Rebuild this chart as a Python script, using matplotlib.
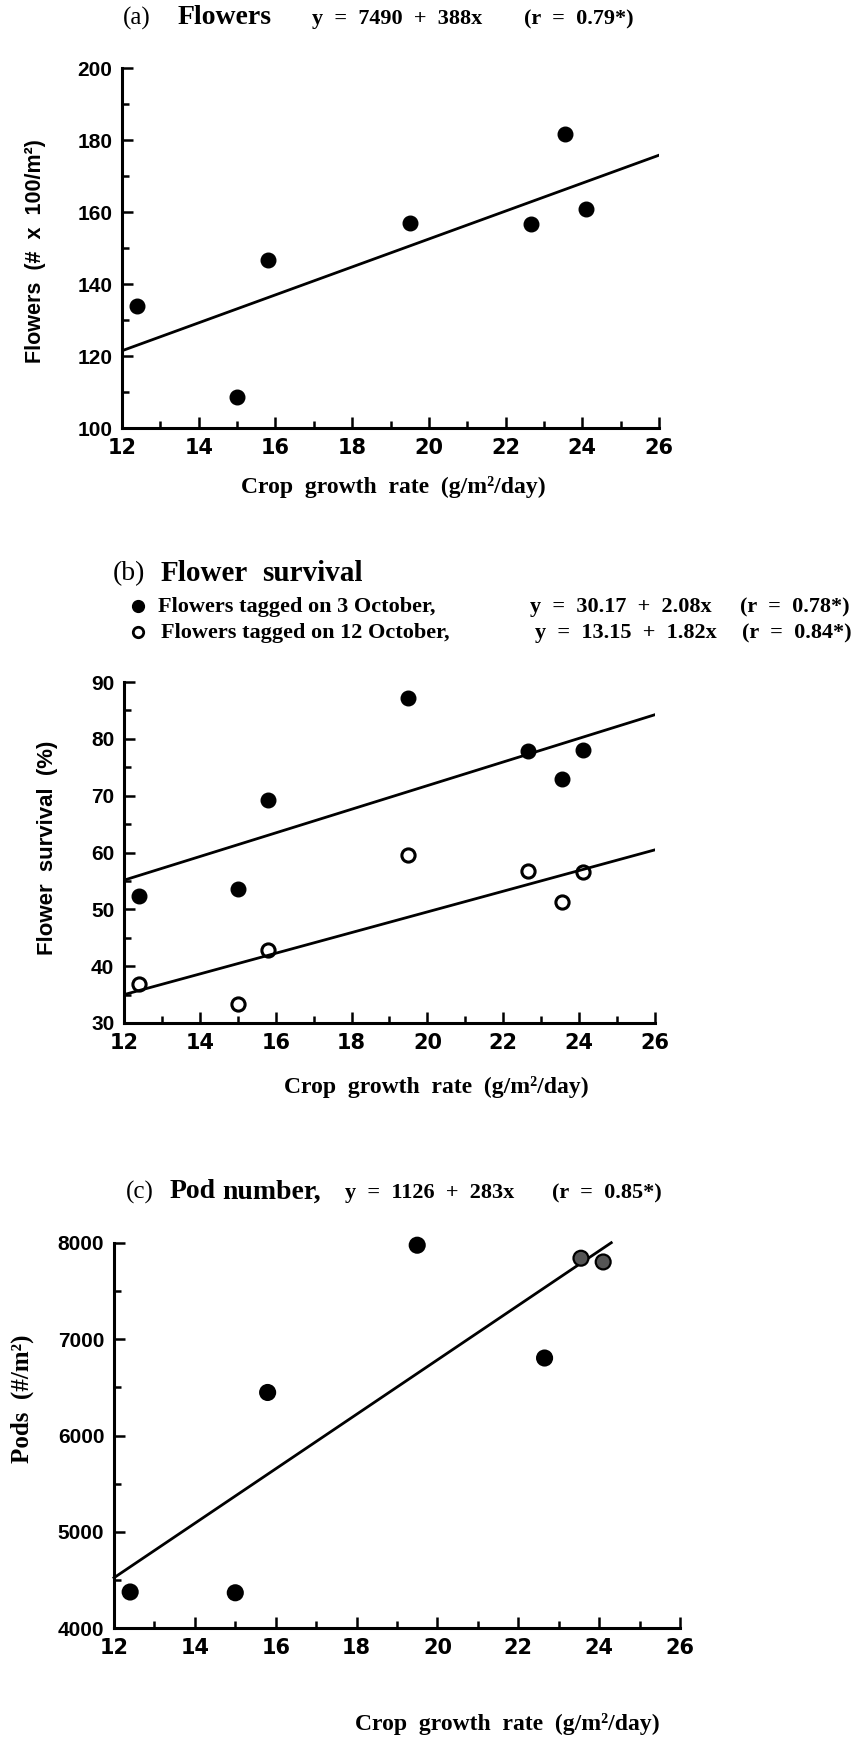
import numpy as np
import matplotlib
matplotlib.use("Agg")
import matplotlib.pyplot as plt
from matplotlib.lines import Line2D
from matplotlib.ticker import MultipleLocator

# crop growth rate of the seven treatments (g/m2/day)
cgr = [12.4, 15.0, 15.8, 19.5, 22.65, 23.55, 24.1]

# (a) flowers, # x 100/m2
flowers = [133.9, 108.7, 146.7, 157.0, 156.7, 181.6, 160.8]
flowers_fit = (7490, 388)          # per m2, plotted /100

# (b) flower survival, %
surv_oct3 = [52.3, 53.5, 69.2, 87.2, 77.8, 72.9, 78.1]
surv_oct12 = [36.9, 33.4, 42.9, 59.5, 56.7, 51.3, 56.5]
surv_fit3 = (30.17, 2.08)
surv_fit12 = (13.15, 1.82)

# (c) pods per m2
pods = [4374, 4366, 6447, 7977, 6805, 7842, 7803]
pods_fit = (1126, 283)
pods_fit_end = 24.3

W, H = 852, 1738
SERIF = ["Liberation Serif", "DejaVu Serif"]
SANS = ["Liberation Sans", "DejaVu Sans"]

fig = plt.figure(figsize=(W / 100, H / 100), dpi=100)


def box(x0, x1, y0, y1):
    # pixel box (from top-left) -> figure fraction rect
    return [x0 / W, 1 - y1 / H, (x1 - x0) / W, (y1 - y0) / H]


def ftext(x, y, s, **kw):
    kw.setdefault("va", "center")
    kw.setdefault("ha", "left")
    kw.setdefault("family", SERIF)
    kw.setdefault("fontweight", "bold")
    fig.text(x / W, 1 - y / H, s, **kw)


def style(ax, ymin, ymax, ymaj, ymin_step):
    ax.set_xlim(12, 26)
    ax.set_ylim(ymin, ymax)
    ax.spines[["top", "right"]].set_visible(False)
    ax.spines[["left", "bottom"]].set_linewidth(2.2)
    ax.xaxis.set_major_locator(MultipleLocator(2))
    ax.xaxis.set_minor_locator(MultipleLocator(1))
    ax.yaxis.set_major_locator(MultipleLocator(ymaj))
    ax.yaxis.set_minor_locator(MultipleLocator(ymin_step))
    ax.tick_params(which="both", direction="in", width=1.8)
    ax.tick_params(which="major", length=8)
    ax.tick_params(which="minor", length=5)
    ax.tick_params(axis="y", pad=7)
    ax.tick_params(axis="x", pad=7)
    for lab in ax.get_yticklabels():
        lab.set_fontfamily(SANS)
        lab.set_fontweight("bold")
        lab.set_fontsize(15)
    for lab in ax.get_xticklabels():
        lab.set_fontfamily(["DejaVu Sans"])
        lab.set_fontweight("bold")
        lab.set_fontsize(15)


xs = np.array([12, 26])
XLAB = "Crop  growth  rate  (g/m²/day)"

# ---- (a) flowers
ax_a = fig.add_axes(box(122, 659, 68, 428))
ax_a.plot(cgr, flowers, "o", color="black", ms=10.5, clip_on=False)
ax_a.plot(xs, (flowers_fit[0] + flowers_fit[1] * xs) / 100, color="black", lw=2)
style(ax_a, 100, 200, 20, 10)

ftext(123, 18, "(a)", fontsize=18, fontweight="normal")
ftext(178, 18, "Flowers", fontsize=20)
ftext(312, 19, "y  =  7490  +  388x", fontsize=16)
ftext(524, 19, "(r  =  0.79*)", fontsize=16)
ftext(36, 251, "Flowers  (#  x  100/m²)", rotation=90, ha="center",
      family=SANS, fontsize=15.5)
ftext(393, 487, XLAB, ha="center", fontsize=17)

# ---- (b) flower survival
ax_b = fig.add_axes(box(124, 655, 682, 1023))
ax_b.plot(cgr, surv_oct3, "o", color="black", ms=10.5, clip_on=False)
ax_b.plot(cgr, surv_oct12, "o", mfc="white", mec="black", mew=2.2, ms=9.5,
          clip_on=False)
ax_b.plot(xs, surv_fit3[0] + surv_fit3[1] * xs, color="black", lw=2)
ax_b.plot(xs, surv_fit12[0] + surv_fit12[1] * xs, color="black", lw=2)
style(ax_b, 30, 90, 10, 5)

ftext(113, 574, "(b)", fontsize=20, fontweight="normal")
ftext(161, 574, "Flower", fontsize=21)
ftext(262, 574, "survival", fontsize=21)
fig.add_artist(Line2D([138 / W], [1 - 606 / H], marker="o", color="black",
                      ms=8.5, transform=fig.transFigure))
fig.add_artist(Line2D([138 / W], [1 - 632 / H], marker="o", mfc="white",
                      mec="black", mew=2, ms=7.5, transform=fig.transFigure))
ftext(158, 607, "Flowers tagged on 3 October,", fontsize=16)
ftext(161, 633, "Flowers tagged on 12 October,", fontsize=16)
ftext(530, 607, "y  =  30.17  +  2.08x", fontsize=16)
ftext(535, 633, "y  =  13.15  +  1.82x", fontsize=16)
ftext(850, 607, "(r  =  0.78*)", ha="right", fontsize=16)
ftext(852, 633, "(r  =  0.84*)", ha="right", fontsize=16)
ftext(48, 848, "Flower  survival  (%)", rotation=90, ha="center",
      family=SANS, fontsize=16)
ftext(436, 1087, XLAB, ha="center", fontsize=17)

# ---- (c) pod number
ax_c = fig.add_axes(box(114, 680, 1243, 1628))
face = ["black"] * 5 + ["#555555"] * 2
ax_c.scatter(cgr, pods, s=115, c=face, edgecolors="black", linewidths=1.6,
             clip_on=False, zorder=3)
xc = np.array([12, pods_fit_end])
ax_c.plot(xc, pods_fit[0] + pods_fit[1] * xc, color="black", lw=2,
          clip_on=False)
style(ax_c, 4000, 8000, 1000, 500)

ftext(126, 1192, "(c)", fontsize=18, fontweight="normal")
ftext(170, 1192, "Pod", fontsize=20)
ftext(222, 1192, "number,", fontsize=20)
ftext(345, 1193, "y  =  1126  +  283x", fontsize=16)
ftext(552, 1193, "(r  =  0.85*)", fontsize=16)
ftext(22, 1399, "Pods  (#/m²)", rotation=90, ha="center", fontsize=18)
ftext(507, 1724, XLAB, ha="center", fontsize=17)

fig.savefig("out.png", dpi=100)
